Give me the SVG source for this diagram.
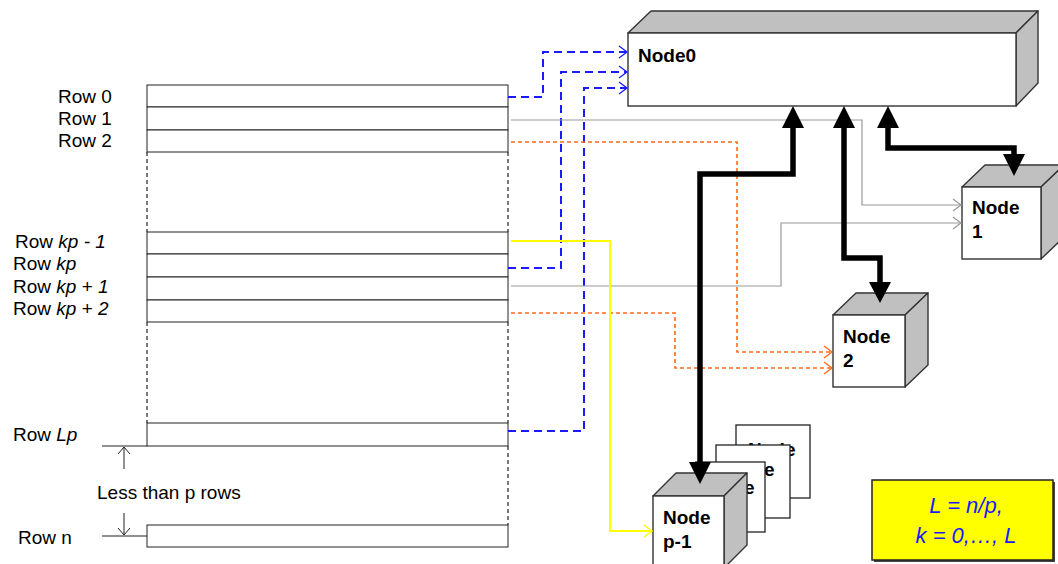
<svg xmlns="http://www.w3.org/2000/svg" width="1058" height="564" viewBox="0 0 1058 564">
  <style>
    .lbl { font-family: "Liberation Sans", Arial, sans-serif; font-size: 19px; fill: #000; }
    .it { font-style: italic; }
    .nt { font-family: "Liberation Sans", Arial, sans-serif; font-size: 19px; font-weight: bold; fill: #000; }
    .row { fill: #fff; stroke: #222; stroke-width: 1; }
    .edge { stroke: #222; stroke-width: 1.2; stroke-dasharray: 4 3; fill: none; }
    .tick { stroke: #222; stroke-width: 1; fill: none; }
    .front { fill: #fff; stroke: #333; stroke-width: 1.4; }
    .side { fill: #c0c0c0; stroke: #333; stroke-width: 1.4; stroke-linejoin: round; }
    .sheet { fill: #fff; stroke: #222; stroke-width: 1.3; }
    .blue { stroke: #1a1aff; stroke-width: 2; stroke-dasharray: 8 5; fill: none; }
    .gray { stroke: #999; stroke-width: 1.2; fill: none; }
    .orange { stroke: #ff6a1a; stroke-width: 1.6; stroke-dasharray: 4 3; fill: none; }
    .yellow { stroke: #ffff00; stroke-width: 2; fill: none; }
    .thick { stroke: #000; stroke-width: 5.5; fill: none; stroke-linejoin: miter; }
    .key { font-family: "Liberation Sans", Arial, sans-serif; font-size: 22px; font-style: italic; fill: #1a1aff; }
  </style>
  <defs>
    <marker id="openBlue" markerUnits="userSpaceOnUse" markerWidth="12" markerHeight="14" refX="9" refY="7" orient="auto">
      <path d="M1,1 L9,7 L1,13" fill="none" stroke="#1a1aff" stroke-width="1.3"/>
    </marker>
    <marker id="openGray" markerUnits="userSpaceOnUse" markerWidth="12" markerHeight="14" refX="9" refY="7" orient="auto">
      <path d="M1,1 L9,7 L1,13" fill="none" stroke="#999" stroke-width="1.2"/>
    </marker>
    <marker id="openOrange" markerUnits="userSpaceOnUse" markerWidth="12" markerHeight="14" refX="9" refY="7" orient="auto">
      <path d="M1,1 L9,7 L1,13" fill="none" stroke="#ff6a1a" stroke-width="1.3"/>
    </marker>
    <marker id="openYellow" markerUnits="userSpaceOnUse" markerWidth="12" markerHeight="14" refX="9" refY="7" orient="auto">
      <path d="M1,1 L9,7 L1,13" fill="none" stroke="#ffff00" stroke-width="1.5"/>
    </marker>
    <marker id="tickArrow" markerUnits="userSpaceOnUse" markerWidth="14" markerHeight="14" refX="8" refY="6" orient="auto">
      <path d="M1,0 L8,6 L1,12" fill="none" stroke="#222" stroke-width="1"/>
    </marker>
  </defs>

  <!-- Row table -->
  <g id="table">
    <rect class="row" x="147" y="85" width="361" height="22"/>
    <rect class="row" x="147" y="107" width="361" height="23"/>
    <rect class="row" x="147" y="130" width="361" height="22"/>
    <rect class="row" x="147" y="232" width="361" height="22"/>
    <rect class="row" x="147" y="254" width="361" height="23"/>
    <rect class="row" x="147" y="277" width="361" height="23"/>
    <rect class="row" x="147" y="300" width="361" height="22"/>
    <rect class="row" x="147" y="423" width="361" height="23"/>
    <rect class="row" x="147" y="525" width="361" height="22"/>
    <path class="edge" d="M147,152 V232 M508,152 V232 M147,322 V423 M508,322 V423 M508,446 V525"/>
    <path class="tick" d="M102,446 H147 M102,536 H147"/>
    <line class="tick" x1="124" y1="469" x2="124" y2="447" marker-end="url(#tickArrow)"/>
    <line class="tick" x1="124" y1="513" x2="124" y2="535" marker-end="url(#tickArrow)"/>
  </g>

  <!-- Row labels -->
  <g id="labels">
    <text class="lbl" x="58" y="103">Row 0</text>
    <text class="lbl" x="58" y="125">Row 1</text>
    <text class="lbl" x="58" y="147">Row 2</text>
    <text class="lbl" x="15" y="248">Row <tspan class="it">kp - 1</tspan></text>
    <text class="lbl" x="13" y="270">Row <tspan class="it">kp</tspan></text>
    <text class="lbl" x="13" y="293">Row <tspan class="it">kp</tspan> + <tspan class="it">1</tspan></text>
    <text class="lbl" x="13" y="315">Row <tspan class="it">kp</tspan> + <tspan class="it">2</tspan></text>
    <text class="lbl" x="13" y="441">Row <tspan class="it">Lp</tspan></text>
    <text class="lbl" x="97" y="499">Less than p rows</text>
    <text class="lbl" x="18" y="544">Row n</text>
  </g>

  <!-- Stacked pages behind Node p-1 -->
  <g id="node-stack">
    <rect class="sheet" x="736" y="425" width="74" height="73"/>
    <text class="nt" x="748" y="456">Node</text>
    <rect class="sheet" x="716" y="445" width="74" height="73"/>
    <text class="nt" x="727" y="476">Node</text>
    <rect class="sheet" x="696" y="462" width="69" height="70"/>
    <text class="nt" x="707" y="494">Node</text>
  </g>

  <!-- Node0 -->
  <g id="node0">
    <polygon class="side" points="628,33 651,11 1038,11 1016,33"/>
    <polygon class="side" points="1016,33 1038,11 1038,83 1016,106"/>
    <rect class="front" x="628" y="33" width="388" height="73"/>
    <text class="nt" x="638" y="62">Node0</text>
  </g>

  <!-- Node 1 -->
  <g id="node1">
    <polygon class="side" points="962,187 985,165 1064,165 1041,187"/>
    <polygon class="side" points="1041,187 1064,165 1064,237 1041,259"/>
    <rect class="front" x="962" y="187" width="79" height="72"/>
    <text class="nt" x="972" y="214">Node</text>
    <text class="nt" x="972" y="238">1</text>
  </g>

  <!-- Node 2 -->
  <g id="node2">
    <polygon class="side" points="833,315 856,293 928,293 905,315"/>
    <polygon class="side" points="905,315 928,293 928,365 905,387"/>
    <rect class="front" x="833" y="315" width="72" height="72"/>
    <text class="nt" x="843" y="343">Node</text>
    <text class="nt" x="843" y="367">2</text>
  </g>

  <!-- Node p-1 -->
  <g id="node-p1">
    <polygon class="side" points="653,496 676,473 747,473 724,496"/>
    <polygon class="side" points="724,496 747,473 747,545 724,568"/>
    <rect class="front" x="653" y="496" width="71" height="74"/>
    <text class="nt" x="663" y="524">Node</text>
    <text class="nt" x="663" y="548">p-1</text>
  </g>

  <!-- Legend -->
  <g id="legend">
    <rect x="874" y="482" width="181" height="80" fill="#444"/>
    <rect x="872" y="480" width="181" height="80" fill="#ffff00" stroke="#222" stroke-width="1.5"/>
    <text class="key" x="966" y="513" text-anchor="middle">L = n/p,</text>
    <text class="key" x="966" y="543" text-anchor="middle">k = 0,…, L</text>
  </g>

  <!-- Connectors -->
  <g id="connectors">
    <path class="blue" d="M508,97 H543 V52 H627" marker-end="url(#openBlue)"/>
    <path class="blue" d="M508,268 H561 V72 H627" marker-end="url(#openBlue)"/>
    <path class="blue" d="M508,431 H584 V88 H627" marker-end="url(#openBlue)"/>
    <path class="gray" d="M511,120 H862 V205 H961" marker-end="url(#openGray)"/>
    <path class="gray" d="M511,286 H781 V223 H961" marker-end="url(#openGray)"/>
    <path class="orange" d="M511,142 H737 V352 H832" marker-end="url(#openOrange)"/>
    <path class="orange" d="M511,313 H675 V368 H832" marker-end="url(#openOrange)"/>
    <path class="yellow" d="M511,241 H610 V531 H652" marker-end="url(#openYellow)"/>
    <!-- bidirectional links from Node0 -->
    <path class="thick" d="M793,128 V174 H700 V462"/>
    <path d="M782,128 L793,106 L804,128 Z M689,462 L700,484 L711,462 Z"/>
    <path class="thick" d="M844,128 V258 H880 V282"/>
    <path d="M833,128 L844,106 L855,128 Z M869,282 L880,303 L891,282 Z"/>
    <path class="thick" d="M888,128 V148 H1014 V154"/>
    <path d="M877,128 L888,106 L899,128 Z M1003,154 L1014,176 L1025,154 Z"/>
  </g>
</svg>
